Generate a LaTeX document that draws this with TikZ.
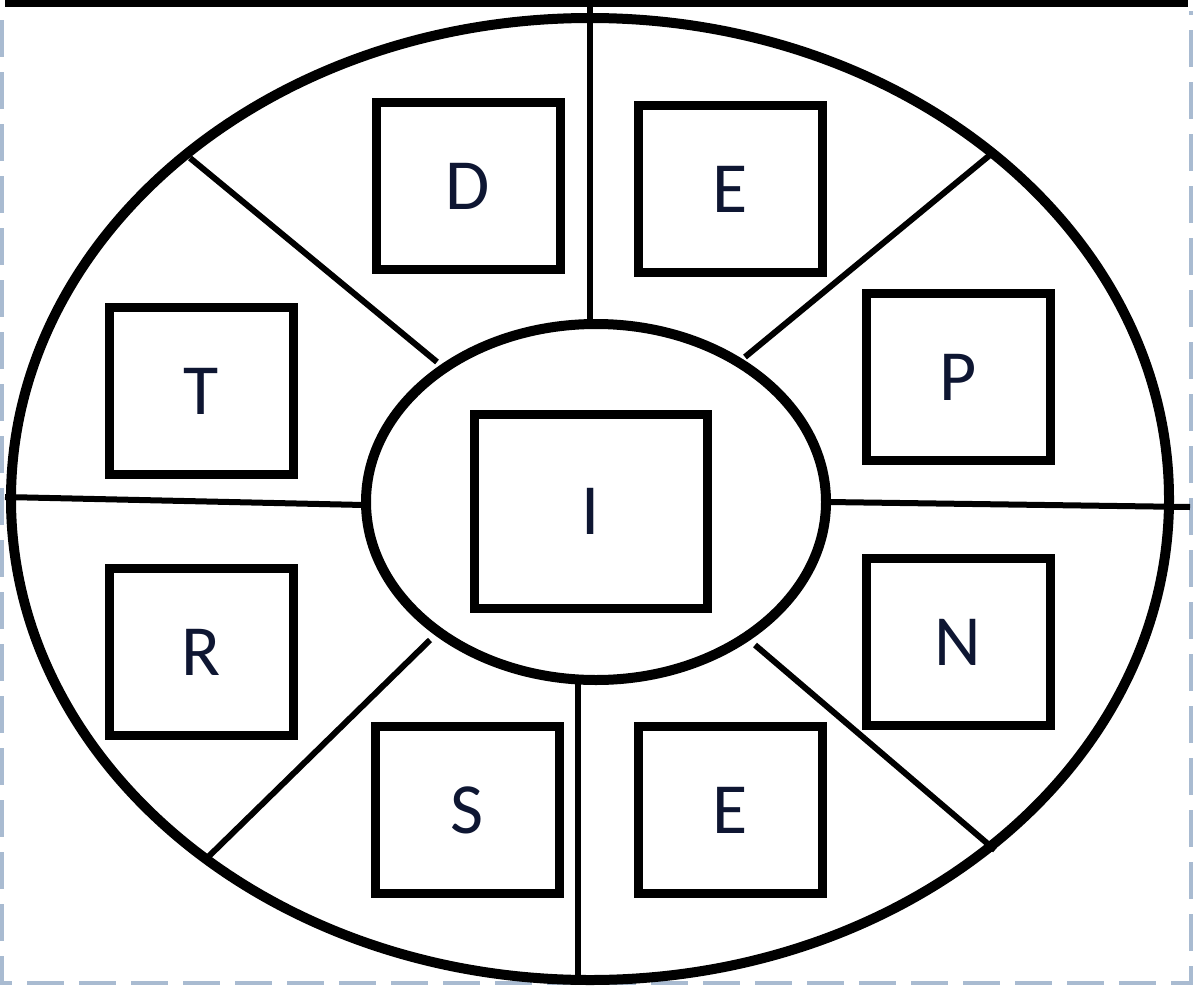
\documentclass[tikz,border=0pt]{standalone}
\usepackage{fontspec}
\setmainfont{Carlito}
\usetikzlibrary{shapes.geometric}

\begin{document}
\begin{tikzpicture}[x=1pt,y=-1pt,
  letterbox/.style={draw,line width=9pt,minimum width=184pt,minimum height=167pt,inner sep=0pt,
    font=\fontsize{72}{76}\selectfont,text=ink},
  spoke/.style={line width=6pt},
  rim/.style={line width=10pt}]
\definecolor{ink}{RGB}{14,22,50}
\definecolor{edge}{RGB}{169,187,209}
\useasboundingbox (0,0) rectangle (1196,985);
% page frame
\draw[edge,line width=4pt,dash pattern=on 37pt off 15pt] (2,20) -- (2,983) -- (1191,983) -- (1191,11);
\draw[line width=8pt] (5,3) -- (1188,3);
% spokes
\coordinate (n0) at (590,0);   \coordinate (n1) at (590,322);
\coordinate (s0) at (578,985); \coordinate (s1) at (578,682);
\coordinate (w0) at (5,497);   \coordinate (w1) at (364,505);
\coordinate (e0) at (1190,507);\coordinate (e1) at (828,502);
\coordinate (nw0) at (190,158);\coordinate (nw1) at (437,362);
\coordinate (ne0) at (990,155);\coordinate (ne1) at (745,357);
\coordinate (sw0) at (205,860);\coordinate (sw1) at (430,640);
\coordinate (se0) at (995,850);\coordinate (se1) at (755,645);
\foreach \d in {n,s,w,e,nw,ne,sw,se}
  \draw[spoke] (\d0) -- (\d1);
% rings
\draw[rim] (590,499) ellipse [x radius=579,y radius=481];
\node[draw,ellipse,rim,fill=white,minimum width=460pt,minimum height=356pt] (hub) at (596,502) {};
% boxes
\node[letterbox] (boxI) at (591,511) [minimum width=233pt,minimum height=194pt] {I};
\node[letterbox] (boxD) at (468,186) {D};
\node[letterbox] (boxEt) at (730,189) {E};
\node[letterbox] (boxT) at (201,391) {T};
\node[letterbox] (boxP) at (958,377) {P};
\node[letterbox] (boxR) at (201,652) {R};
\node[letterbox] (boxN) at (958,642) {N};
\node[letterbox] (boxS) at (467,810) {S};
\node[letterbox] (boxEb) at (730,810) {E};
\end{tikzpicture}
\end{document}
